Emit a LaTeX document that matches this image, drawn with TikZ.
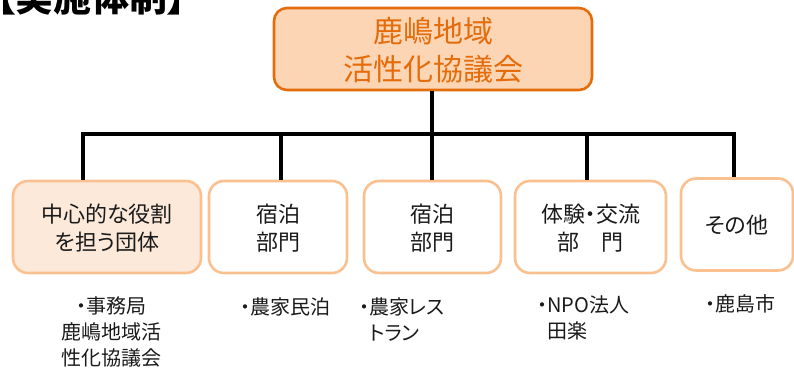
\documentclass[tikz,border=0pt]{standalone}
\usepackage{fontspec}
\setmainfont[RawFeature=+palt]{Noto Sans CJK JP}
\usetikzlibrary{positioning}
\definecolor{councilorange}{HTML}{E46C0A}
\definecolor{councilfill}{HTML}{FCD5B5}
\definecolor{unitline}{HTML}{FAC090}
\definecolor{unitfill}{HTML}{FDE9D9}
\definecolor{inktext}{HTML}{1A1A1A}

\begin{document}
\begin{tikzpicture}[x=1pt,y=-1pt,line join=miter,
  councilbox/.style={draw=councilorange,fill=councilfill,line width=2.6pt,rounded corners=13pt,
    text=councilorange,align=center,inner sep=0pt,font=\fontsize{30}{38}\selectfont,text depth=-10pt},
  unitbox/.style={draw=unitline,fill=white,line width=2.6pt,rounded corners=15pt,
    text=inktext,align=center,inner sep=0pt,font=\fontsize{22}{28}\selectfont,text depth=-10pt},
  memberlist/.style={text=inktext,inner sep=0pt,font=\fontsize{20}{26}\selectfont},
  link/.style={black,line width=3.6pt}]
\useasboundingbox (0,0) rectangle (794,367);
\clip (0,0) rectangle (794,367);
%%
\node (node_title) at (-4,11) [anchor=base west,inner sep=0pt,
  font=\fontsize{38}{40}\selectfont\bfseries] {【実施体制】};
\node (node_top) at (433,49) [councilbox,minimum width=318pt,minimum height=82pt] {鹿嶋地域\\活性化協議会};
%% units
\node (node_1) at (107,227) [unitbox,fill=unitfill,minimum width=188pt,minimum height=92pt] {中心的な役割\\を担う団体};
  \node (node_2) at (278,227) [unitbox,minimum width=138pt,minimum height=92pt] {宿泊\\部門};
  \node (node_3) at (432.5,227) [unitbox,minimum width=137pt,minimum height=92pt] {宿泊\\部門};
  \node (node_4) at (590.5,227) [unitbox,minimum width=151pt,minimum height=92pt] {体験・交流\\部\hspace{1em}門};
  \node (node_5) at (737,224.5) [unitbox,minimum width=112pt,minimum height=92pt,text depth=-17pt] {その他};
%% members
\node (list_1) at (111,332) [memberlist,align=center] {・事務局\\鹿嶋地域活\\性化協議会};
  \node (list_2) at (285,307) [memberlist] {・農家民泊};
  \node (list_3) at (359,320) [memberlist,anchor=west,align=left] {・農家レス\\\hphantom{・}トラン};
  \node (list_4) at (537,317.5) [memberlist,anchor=west,align=left] {・NPO法人\\\hphantom{・}田楽};
  \node (list_5) at (740,304) [memberlist] {・鹿島市};
%% tree
\coordinate (bar_1) at (83,134);
  \coordinate (bar_2) at (281,134);
  \coordinate (bar_3) at (432,134);
  \coordinate (bar_4) at (587,134);
  \coordinate (bar_5) at (734,134);
\draw [link] (node_top.south -| bar_3) -- (bar_3);
\draw [link] (bar_1 |- node_1.north) -- (bar_1) -- (bar_5) -- (bar_5 |- node_5.north);
\foreach \k in {2,3,4}
  \draw [link] (bar_\k) -- (bar_\k |- node_\k.north);
%
\end{tikzpicture}
\end{document}
